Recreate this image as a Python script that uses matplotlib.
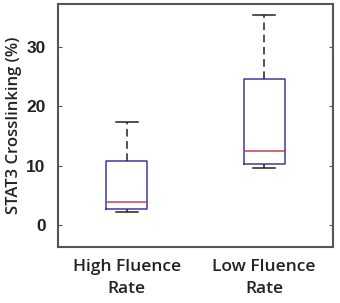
import matplotlib
matplotlib.use("Agg")
import matplotlib.pyplot as plt

# Data (box plot summary stats)
groups = ["High Fluence\nRate", "Low Fluence\nRate"]
whisker_low = [2.2, 9.6]
q1 = [2.7, 10.3]
medians = [3.9, 12.5]
q3 = [10.8, 24.6]
whisker_high = [17.4, 35.4]
yticks = [0, 10, 20, 30]

stats = []
for i in range(len(groups)):
    stats.append({"whislo": whisker_low[i], "q1": q1[i], "med": medians[i],
                  "q3": q3[i], "whishi": whisker_high[i], "fliers": []})

fig = plt.figure(figsize=(3.4, 3.03), dpi=100)
ax = fig.add_axes([0.171, 0.185, 0.808, 0.802])

ax.bxp(stats, positions=[1, 2], widths=0.3, showfliers=False,
       boxprops=dict(color="#3a3a9c", linewidth=1.1),
       medianprops=dict(color="#c8404a", linewidth=1.1),
       whiskerprops=dict(color="#222222", linewidth=1.1, linestyle=(0, (5, 3))),
       capprops=dict(color="#222222", linewidth=1.1),
       capwidths=0.16)

ax.set_xlim(0.5, 2.5)
ax.set_ylim(-3.7, 37.3)
ax.set_yticks(yticks)
ax.set_yticklabels([str(t) for t in yticks], fontweight="bold",
                   fontfamily="Liberation Sans", fontsize=12.5, color="#222222")
ax.set_xticks([1, 2])
ax.set_xticklabels(groups, fontfamily="Open Sans", fontsize=12.5, fontweight="semibold",
                   linespacing=1.5, color="#222222")
ax.tick_params(axis="x", length=0, pad=9)
ax.tick_params(axis="y", direction="in", length=3, width=0.8, color="#555555",
               right=True, pad=9)
ax.set_ylabel("STAT3 Crosslinking (%)", fontfamily="Open Sans", fontsize=12,
              fontweight="semibold", color="#222222", labelpad=3)

for s in ax.spines.values():
    s.set_color("#555555")
    s.set_linewidth(1.5)

fig.savefig("out.png", dpi=100)
